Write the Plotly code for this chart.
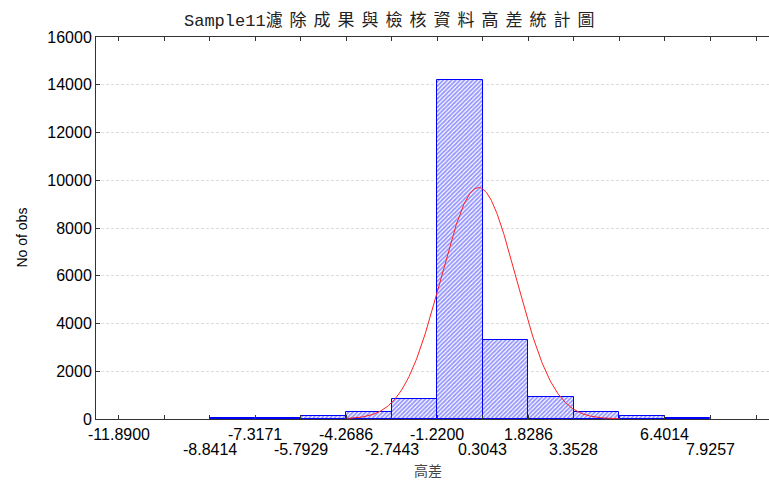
import numpy as np
import plotly.graph_objects as go

# Histogram bin edges (高差) and observation counts per bin
bin_edges = [-11.8900, -10.3657, -8.8414, -7.3171, -5.7929, -4.2686, -2.7443,
             -1.2200, 0.3043, 1.8286, 3.3528, 4.8771, 6.4014, 7.9257, 9.4500]
counts = [0, 0, 25, 28, 110, 300, 838, 14180, 3320, 920, 293, 110, 25, 0]

# Axis tick labels: which edges are labelled, and on which row (0 = upper, 1 = lower)
x_tick_labels = ["-11.8900", "-8.8414", "-7.3171", "-5.7929", "-4.2686", "-2.7443",
                 "-1.2200", "0.3043", "1.8286", "3.3528", "6.4014", "7.9257"]
x_tick_rows = [0, 1, 0, 1, 0, 1, 0, 1, 0, 1, 0, 1]
y_ticks = [0, 2000, 4000, 6000, 8000, 10000, 12000, 14000, 16000]
y_tick_labels = [str(v) for v in y_ticks]

# Fitted normal curve parameters
fit_mean = 0.16
fit_sd = 1.264

edges = np.array(bin_edges)
centers = (edges[:-1] + edges[1:]) / 2
widths = np.diff(edges)
bw = widths.mean()
n_total = sum(counts)
# empty bins are left undrawn
bar_y = [c if c > 0 else None for c in counts]

fig = go.Figure()
fig.add_trace(go.Bar(
    x=centers, y=bar_y, width=widths,
    marker=dict(color="white",
                line=dict(color="#0000ff", width=1),
                pattern=dict(shape="/", fgcolor="#2a2aff", bgcolor="white",
                             size=3, solidity=0.6)),
    showlegend=False, hoverinfo="x+y"))

xs = np.linspace(-4.3, 4.85, 400)
ys = n_total * bw / (fit_sd * np.sqrt(2 * np.pi)) * np.exp(-0.5 * ((xs - fit_mean) / fit_sd) ** 2)
fig.add_trace(go.Scatter(x=xs, y=ys, mode="lines",
                         line=dict(color="#ff2020", width=1),
                         showlegend=False, hoverinfo="skip"))

tick_font = dict(family="Liberation Sans, Arial, sans-serif", size=16, color="black")

annotations = []
label_vals = [float(s) for s in x_tick_labels]
for v, s, r in zip(label_vals, x_tick_labels, x_tick_rows):
    annotations.append(dict(x=v, y=0, xref="x", yref="paper", text=s,
                            showarrow=False, xanchor="center", yanchor="middle",
                            yshift=-15 - 15 * r, font=tick_font))

# Title, with wide character spacing
annotations.append(dict(
    x=0.4406, y=1.0497, xref="paper", yref="paper", xanchor="center", yanchor="middle",
    text=('<span style="font-family:Liberation Mono, monospace;font-size:17px">Sample11</span>'
          '<span style="letter-spacing:7px">濾除成果與檢核資料高差統計圖</span>'),
    showarrow=False,
    font=dict(family="Noto Sans CJK TC", size=17, color="#222222")))

# x-axis title
annotations.append(dict(
    x=0.493, y=-0.1335, xref="paper", yref="paper", xanchor="center", yanchor="middle",
    text="高差", showarrow=False,
    font=dict(family="Noto Sans CJK TC", size=14, color="#444444")))

# y-axis title
annotations.append(dict(
    x=-0.11, y=0.475, xref="paper", yref="paper", xanchor="center", yanchor="middle",
    text="No of obs", textangle=-90, showarrow=False,
    font=dict(family="Liberation Sans, Arial", size=14, color="black")))

fig.update_layout(
    width=769, height=483,
    margin=dict(l=96, r=0, t=37, b=64),
    paper_bgcolor="white", plot_bgcolor="white",
    bargap=0,
    annotations=annotations,
    xaxis=dict(range=[-12.650, 9.885], tickvals=bin_edges, showticklabels=False,
               ticks="inside", ticklen=4, tickcolor="#333333",
               showline=True, linecolor="#333333", linewidth=1, mirror="ticks",
               showgrid=False, zeroline=False),
    yaxis=dict(range=[0, 16000], tickvals=y_ticks, ticktext=y_tick_labels,
               ticks="inside", ticklen=4,
               tickcolor="#333333", showline=True, linecolor="#333333", linewidth=1,
               showgrid=True, gridcolor="#dcdcdc", griddash="3px,2px", gridwidth=1,
               zeroline=False, tickfont=tick_font),
)

fig.write_html("out.html")
